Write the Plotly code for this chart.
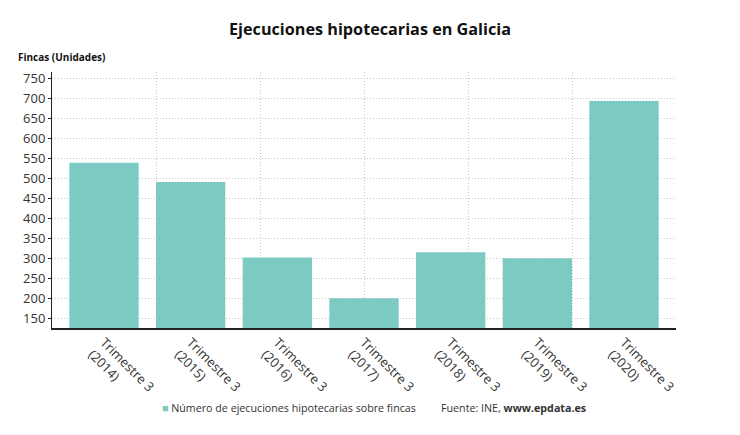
import plotly.graph_objects as go

categories = ["Trimestre 3<br>(2014)", "Trimestre 3<br>(2015)", "Trimestre 3<br>(2016)",
              "Trimestre 3<br>(2017)", "Trimestre 3<br>(2018)", "Trimestre 3<br>(2019)",
              "Trimestre 3<br>(2020)"]
values = [539, 491, 303, 201, 316, 301, 693]
y_ticks = [150, 200, 250, 300, 350, 400, 450, 500, 550, 600, 650, 700, 750]
series_name = "Número de ejecuciones hipotecarias sobre fincas"

FONT = "Open Sans"
BAR = "#7bcbc2"

fig = go.Figure()
fig.add_trace(go.Bar(x=list(range(len(categories))), y=values, name=series_name,
                     marker=dict(color=BAR, line=dict(width=0)), width=0.8,
                     showlegend=False))

fig.update_layout(
    width=740, height=435,
    margin=dict(l=44, r=72, t=64, b=115),
    paper_bgcolor="white", plot_bgcolor="white",
    font=dict(family=FONT, color="#333333"),
    title=dict(text="<b>Ejecuciones hipotecarias en Galicia</b>", x=(370 - 8) / 740, xanchor="center",
               y=1 - (29 - 8) / 435, yanchor="middle", font=dict(size=16.2, color="#111111", family=FONT)),
    xaxis=dict(range=[-0.6, 6.6], tickmode="array", tickvals=list(range(len(categories))),
               ticktext=categories, tickangle=45, showgrid=False, zeroline=False,
               showline=True, linecolor="#222222", linewidth=1.5,
               tickfont=dict(size=13, color="#333333"), ticks=""),
    xaxis2=dict(range=[0, 6], overlaying="x", side="bottom", showgrid=True,
                gridcolor="#c8c8c8", griddash="1px,2px", gridwidth=1, dtick=1,
                showticklabels=False, zeroline=False, showline=False),
    yaxis=dict(range=[127, 765], tickvals=y_ticks, showgrid=True, gridcolor="#c8c8c8",
               griddash="1px,2px", zeroline=False, showline=True, linecolor="#222222",
               linewidth=1, ticks="outside", ticklen=3, tickcolor="#222222",
               tickfont=dict(size=13, color="#333333")),
    bargap=0.2,
)
# invisible trace on xaxis2 so its grid renders
fig.add_trace(go.Scatter(x=[0, 6], y=[None, None], xaxis="x2", mode="lines",
                         showlegend=False, hoverinfo="skip"))

fig.add_annotation(text="<b>Fincas (Unidades)</b>", xref="paper", yref="paper",
                   x=-36/624, y=1 + (72 - 57) / 256, xanchor="left", yanchor="middle",
                   showarrow=False, font=dict(size=10, color="#111111", family=FONT))
fig.add_annotation(text="<span style='color:%s'>■</span> %s" % (BAR, series_name),
                   xref="paper", yref="paper", x=(160 - 52) / 624, y=-(408 - 328) / 256,
                   xanchor="left", yanchor="middle", showarrow=False,
                   font=dict(size=10.7, color="#333333", family=FONT))
fig.add_annotation(text="Fuente: INE, <b>www.epdata.es</b>",
                   xref="paper", yref="paper", x=(439 - 52) / 624, y=-(408 - 328) / 256,
                   xanchor="left", yanchor="middle", showarrow=False,
                   font=dict(size=10.7, color="#333333", family=FONT))

fig.write_html("out.html")
